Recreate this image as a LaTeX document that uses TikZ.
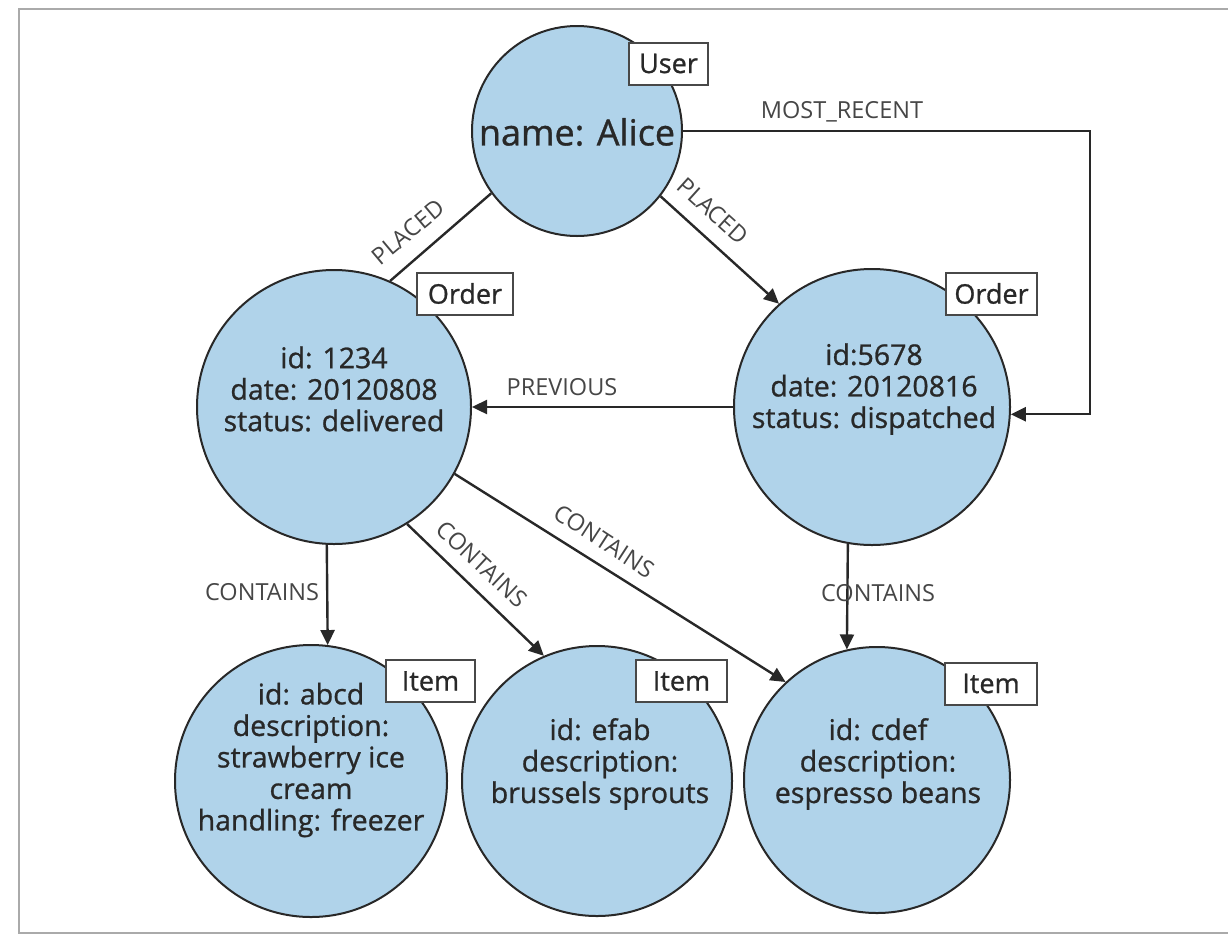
\documentclass[tikz,border=0pt]{standalone}
\usepackage{fontspec}
\setmainfont{Open Sans}
\newfontfamily\heavyfont{Open Sans}[FakeBold=0.9]
\usetikzlibrary{arrows.meta}
\definecolor{nodefill}{RGB}{176,211,234}
\definecolor{ink}{RGB}{40,40,40}
\definecolor{labelink}{RGB}{70,70,70}
\definecolor{framegray}{RGB}{170,170,170}

\begin{document}
\begin{tikzpicture}[x=1pt,y=-1pt,
  entity/.style={circle, draw=ink, line width=2pt, fill=nodefill, inner sep=0pt, minimum size=#1},
  props/.style={align=center, text=ink, font=\heavyfont\fontsize{28.5}{31.5}\selectfont, inner sep=0pt},
  tag/.style={draw=ink!85, line width=2pt, fill=white, text=ink, font=\heavyfont\fontsize{27}{30}\selectfont, minimum height=42pt, minimum width=#1, inner xsep=2pt, inner ysep=0pt},
  rel/.style={draw=ink, line width=2.4pt, -{Triangle[length=15pt,width=14pt]}},
  plainrel/.style={draw=ink, line width=2.4pt},
  rellabel/.style={text=labelink, font=\fontsize{23.5}{25}\selectfont, inner sep=1pt}
]
\useasboundingbox (0,0) rectangle (1228,935);

% outer frame
\draw[framegray, line width=2pt] (1228,9) -- (19,9) -- (19,933) -- (1228,933);

% graph vertices
\node[entity=210] (user)   at (577,131) {};
\node[entity=274] (order1) at (334,407) {};
\node[entity=276] (order2) at (872,407) {};
\node[entity=272] (item1)  at (311,781) {};
\node[entity=270] (item2)  at (597,781) {};
\node[entity=266] (item3)  at (877,780) {};

% properties
\node[props, font=\heavyfont\fontsize{36}{40}\selectfont] (userP) at (577,132) {name: Alice};
\node[props] (order1P) at (334,389) {id: 1234\\date: 20120808\\status: delivered};
\node[props] (order2P) at (874,389) {id:5678\\date: 20120816\\status: dispatched};
\node[props] (item1P) at (311,760) {id: abcd\\description:\\strawberry ice\\cream\\handling: freezer};
\node[props] (item2P) at (600,764) {id: efab\\description:\\brussels sprouts};
\node[props] (item3P) at (878,764) {id: cdef\\description:\\espresso beans};

% relationships
\coordinate (mrc) at (1090,131);
\draw[plainrel] (user.216) -- (order1.66);
\draw[rel] (user.-38) -- (order2.132);
\draw[rel] (user.east) -- (mrc) |- (order2.-3);
\draw[rel] (order2.west) -- (order1.east);
\draw[rel] (order1.-93) -- (item1.83);
\draw[rel] (order1.-58) -- (item2.113);
\draw[rel] (order1.-29) -- (item3.133);
\draw[rel] (order2.-100) -- (item3.103);

% relationship names
\node[rellabel, rotate=40]  (lp1) at (408,232) {PLACED};
\node[rellabel, rotate=-42] (lp2) at (713,211) {PLACED};
\node[rellabel] (lmr) at (842,112) {MOST\_RECENT};
\node[rellabel] (lpr) at (562,387) {PREVIOUS};
\node[rellabel] (lc1) at (262,592) {CONTAINS};
\node[rellabel, rotate=-43] (lc2) at (482,564) {CONTAINS};
\node[rellabel, rotate=-33] (lc3) at (604,541) {CONTAINS};
\node[rellabel] (lc4) at (878,593) {CONTAINS};

% vertex labels
\node[tag=79]  (userL)   at (668.5,63.5) {User};
\node[tag=96]  (order1L) at (465,293.5) {Order};
\node[tag=91]  (order2L) at (991.5,293.5) {Order};
\node[tag=89]  (item1L)  at (430.5,681) {Item};
\node[tag=91]  (item2L)  at (681.5,681) {Item};
\node[tag=92]  (item3L)  at (991,683.5) {Item};
\end{tikzpicture}
\end{document}
